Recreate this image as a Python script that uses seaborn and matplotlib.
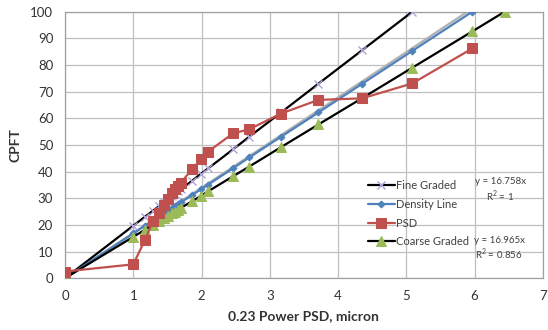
import matplotlib
matplotlib.use("Agg")
import matplotlib.pyplot as plt
import seaborn as sns
import numpy as np
import pandas as pd
from matplotlib.ticker import MultipleLocator

# ---- data ----
x_psd = [0.0, 1.0, 1.173, 1.288, 1.375, 1.448, 1.510, 1.564, 1.613, 1.657, 1.698,
         1.864, 1.992, 2.097, 2.459, 2.700, 3.166, 3.713, 4.355, 5.088, 5.966]
y_psd = [2.5, 5.2, 14.4, 21.5, 24.5, 27.3, 29.6, 31.8, 33.4, 34.6, 35.9,
         40.9, 44.7, 47.5, 54.3, 55.9, 61.8, 66.9, 67.5, 73.1, 86.2]

x_fine = [0.0, 1.0, 1.173, 1.288, 1.375, 1.448, 1.510, 1.564, 1.613, 1.657, 1.698,
          1.864, 1.992, 2.097, 2.459, 2.700, 3.166, 3.713, 4.355, 5.088]
y_fine = [0.0, 19.7, 23.1, 25.3, 27.0, 28.5, 29.7, 30.7, 31.7, 32.6, 33.4,
          36.6, 39.2, 41.2, 48.3, 53.1, 62.2, 73.0, 85.6, 100.0]

x_dens = [0.0, 1.0, 1.173, 1.288, 1.375, 1.448, 1.510, 1.564, 1.613, 1.657, 1.698,
          1.864, 1.992, 2.097, 2.459, 2.700, 3.166, 3.713, 4.355, 5.088, 5.966]
y_dens = [0.0, 16.8, 19.7, 21.6, 23.0, 24.3, 25.3, 26.2, 27.0, 27.8, 28.5,
          31.2, 33.4, 35.1, 41.2, 45.3, 53.1, 62.2, 73.0, 85.3, 100.0]

x_coarse = [0.0, 1.0, 1.173, 1.288, 1.375, 1.448, 1.510, 1.564, 1.613, 1.657, 1.698,
            1.864, 1.992, 2.097, 2.459, 2.700, 3.166, 3.713, 4.355, 5.088, 5.966, 6.44]
y_coarse = [0.0, 15.5, 18.2, 20.0, 21.4, 22.5, 23.4, 24.3, 25.0, 25.7, 26.4,
            28.9, 30.9, 32.6, 38.2, 41.9, 49.2, 57.7, 67.6, 79.0, 92.6, 100.0]

trend_slope = 16.965
trend_x = [0.0, 5.9]

labels = ["Fine Graded", "Density Line", "PSD", "Coarse Graded"]
eq1 = "y = 16.758x\nR$^2$ = 1"
eq2 = "y = 16.965x\nR$^2$ = 0.856"
xlabel = "0.23 Power PSD, micron"
ylabel = "CPFT"

# ---- plot ----
sns.set_style("white")
plt.rcParams['font.family'] = ['Lato', 'DejaVu Sans']
plt.rcParams['mathtext.fontset'] = 'custom'
plt.rcParams['mathtext.rm'] = 'Lato'

fig = plt.figure(figsize=(5.48, 3.30), dpi=100)
ax = fig.add_axes([0.1186, 0.157, 0.872, 0.8075])

blue = "#4F81BD"
red = "#C0504D"
green = "#9BBB59"
lav = "#B3A2D7"

sns.lineplot(x=trend_x, y=[v * trend_slope for v in trend_x], ax=ax, color="#B0B0B0",
             linewidth=1.6, sort=False, estimator=None, zorder=2)
sns.lineplot(x=x_fine, y=y_fine, ax=ax, color="black", linewidth=1.6, marker="x",
             markersize=6, markeredgecolor=lav, markerfacecolor=lav, markeredgewidth=1.0,
             sort=False, estimator=None, label=labels[0], zorder=3)
sns.lineplot(x=x_dens, y=y_dens, ax=ax, color=blue, linewidth=1.6, marker="D",
             markersize=3.5, markeredgecolor=blue, markerfacecolor=blue,
             sort=False, estimator=None, label=labels[1], zorder=4)
sns.lineplot(x=x_psd, y=y_psd, ax=ax, color=red, linewidth=1.6, marker="s",
             markersize=6.5, markeredgecolor=red, markerfacecolor=red,
             sort=False, estimator=None, label=labels[2], zorder=5)
sns.lineplot(x=x_coarse, y=y_coarse, ax=ax, color="black", linewidth=1.6, marker="^",
             markersize=6.5, markeredgecolor=green, markerfacecolor=green,
             sort=False, estimator=None, label=labels[3], zorder=4)

ax.set_xlim(0, 7)
ax.set_ylim(0, 100)
ax.xaxis.set_major_locator(MultipleLocator(1))
ax.xaxis.set_minor_locator(MultipleLocator(0.2))
ax.yaxis.set_major_locator(MultipleLocator(10))
ax.yaxis.set_minor_locator(MultipleLocator(2))
ax.grid(True, which="major", color="#BFBFBF", linewidth=0.9)
ax.set_axisbelow(True)
for s in ax.spines.values():
    s.set_color("#A0A0A0")
    s.set_linewidth(0.9)
ax.tick_params(axis="both", which="major", direction="inout", length=7, width=0.8,
               color="#A0A0A0", labelsize=9.5, labelcolor="#333333", pad=5)
ax.tick_params(axis="both", which="minor", direction="inout", length=5, width=0.6,
               color="#A0A0A0")

ax.set_xlabel(xlabel, fontsize=10, fontweight="bold", color="#333333", labelpad=6)
ax.set_ylabel(ylabel, fontsize=10, fontweight="bold", color="#333333", labelpad=6)

leg = ax.legend(loc="upper left", bbox_to_anchor=(0.625, 0.385), frameon=False,
                fontsize=8, handlelength=2.4, handletextpad=0.1, labelspacing=0.7,
                borderaxespad=0)
for t in leg.get_texts():
    t.set_color("#404040")

ax.text(6.38, 33.0, eq1, fontsize=7, ha="center", va="center", color="#404040",
        linespacing=1.2)
ax.text(6.36, 11.0, eq2, fontsize=7, ha="center", va="center", color="#404040",
        linespacing=1.2)

fig.savefig("out.png", dpi=100)
